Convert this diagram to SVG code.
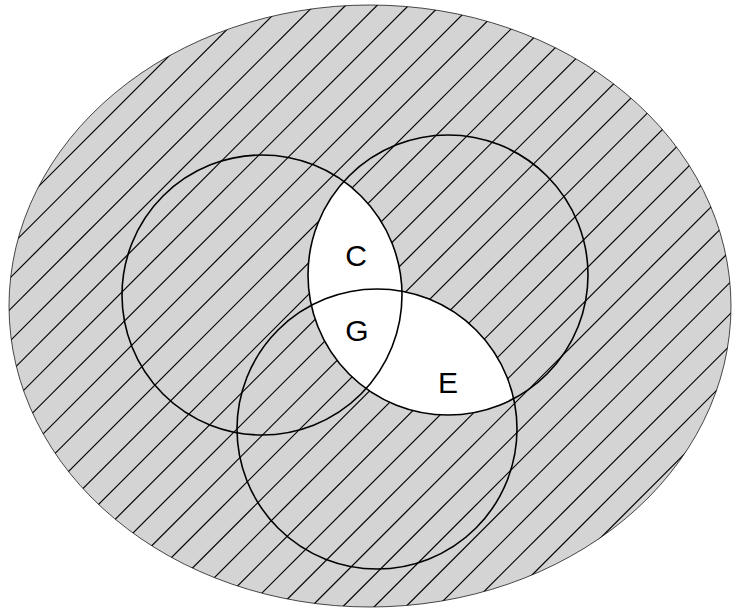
<svg xmlns="http://www.w3.org/2000/svg" width="732" height="611" viewBox="0 0 732 611">
  <style>
    .circ { fill: none; stroke: #000; stroke-width: 1.6; }
    .hl { stroke: #000; stroke-width: 1.2; }
    .lbl { font-family: "Liberation Sans", Arial, sans-serif; font-size: 30px; fill: #000; text-anchor: middle; }
  </style>
  <defs>
    <clipPath id="ellClip">
      <ellipse cx="370" cy="306" rx="361" ry="301"/>
    </clipPath>
    <clipPath id="rightClip">
      <circle cx="448" cy="275" r="140"/>
    </clipPath>
  </defs>
  <g id="universe">
    <ellipse cx="370" cy="306" rx="361" ry="301" fill="#d4d4d4" stroke="#000" stroke-width="0.7"/>
    <g id="hatching" clip-path="url(#ellClip)">
      <line class="hl" x1="-615.5" y1="620" x2="4.5" y2="0"/>
      <line class="hl" x1="-584" y1="620" x2="36" y2="0"/>
      <line class="hl" x1="-552.5" y1="620" x2="67.5" y2="0"/>
      <line class="hl" x1="-521" y1="620" x2="99" y2="0"/>
      <line class="hl" x1="-489.5" y1="620" x2="130.5" y2="0"/>
      <line class="hl" x1="-458" y1="620" x2="162" y2="0"/>
      <line class="hl" x1="-426.5" y1="620" x2="193.5" y2="0"/>
      <line class="hl" x1="-395" y1="620" x2="225" y2="0"/>
      <line class="hl" x1="-363.5" y1="620" x2="256.5" y2="0"/>
      <line class="hl" x1="-332" y1="620" x2="288" y2="0"/>
      <line class="hl" x1="-300.5" y1="620" x2="319.5" y2="0"/>
      <line class="hl" x1="-269" y1="620" x2="351" y2="0"/>
      <line class="hl" x1="-237.5" y1="620" x2="382.5" y2="0"/>
      <line class="hl" x1="-206" y1="620" x2="414" y2="0"/>
      <line class="hl" x1="-174.5" y1="620" x2="445.5" y2="0"/>
      <line class="hl" x1="-143" y1="620" x2="477" y2="0"/>
      <line class="hl" x1="-111.5" y1="620" x2="508.5" y2="0"/>
      <line class="hl" x1="-80" y1="620" x2="540" y2="0"/>
      <line class="hl" x1="-48.5" y1="620" x2="571.5" y2="0"/>
      <line class="hl" x1="-17" y1="620" x2="603" y2="0"/>
      <line class="hl" x1="14.5" y1="620" x2="634.5" y2="0"/>
      <line class="hl" x1="46" y1="620" x2="666" y2="0"/>
      <line class="hl" x1="77.5" y1="620" x2="697.5" y2="0"/>
      <line class="hl" x1="109" y1="620" x2="729" y2="0"/>
      <line class="hl" x1="140.5" y1="620" x2="760.5" y2="0"/>
      <line class="hl" x1="172" y1="620" x2="792" y2="0"/>
      <line class="hl" x1="203.5" y1="620" x2="823.5" y2="0"/>
      <line class="hl" x1="235" y1="620" x2="855" y2="0"/>
      <line class="hl" x1="266.5" y1="620" x2="886.5" y2="0"/>
      <line class="hl" x1="298" y1="620" x2="918" y2="0"/>
      <line class="hl" x1="329.5" y1="620" x2="949.5" y2="0"/>
      <line class="hl" x1="361" y1="620" x2="981" y2="0"/>
      <line class="hl" x1="392.5" y1="620" x2="1012.5" y2="0"/>
      <line class="hl" x1="424" y1="620" x2="1044" y2="0"/>
      <line class="hl" x1="455.5" y1="620" x2="1075.5" y2="0"/>
      <line class="hl" x1="487" y1="620" x2="1107" y2="0"/>
      <line class="hl" x1="518.5" y1="620" x2="1138.5" y2="0"/>
      <line class="hl" x1="550" y1="620" x2="1170" y2="0"/>
      <line class="hl" x1="581.5" y1="620" x2="1201.5" y2="0"/>
      <line class="hl" x1="613" y1="620" x2="1233" y2="0"/>
      <line class="hl" x1="644.5" y1="620" x2="1264.5" y2="0"/>
      <line class="hl" x1="676" y1="620" x2="1296" y2="0"/>
      <line class="hl" x1="707.5" y1="620" x2="1327.5" y2="0"/>
    </g>
  </g>
  <g id="white-regions" clip-path="url(#rightClip)" fill="#fff">
    <circle cx="262" cy="295" r="140"/>
    <circle cx="377" cy="429" r="140"/>
  </g>
  <g id="circle-left"><circle class="circ" cx="262" cy="295" r="140"/></g>
  <g id="circle-right"><circle class="circ" cx="448" cy="275" r="140"/></g>
  <g id="circle-bottom"><circle class="circ" cx="377" cy="429" r="140"/></g>
  <g id="label-C"><text class="lbl" x="356" y="266">C</text></g>
  <g id="label-G"><text class="lbl" x="357" y="341">G</text></g>
  <g id="label-E"><text class="lbl" x="448" y="393">E</text></g>
</svg>
